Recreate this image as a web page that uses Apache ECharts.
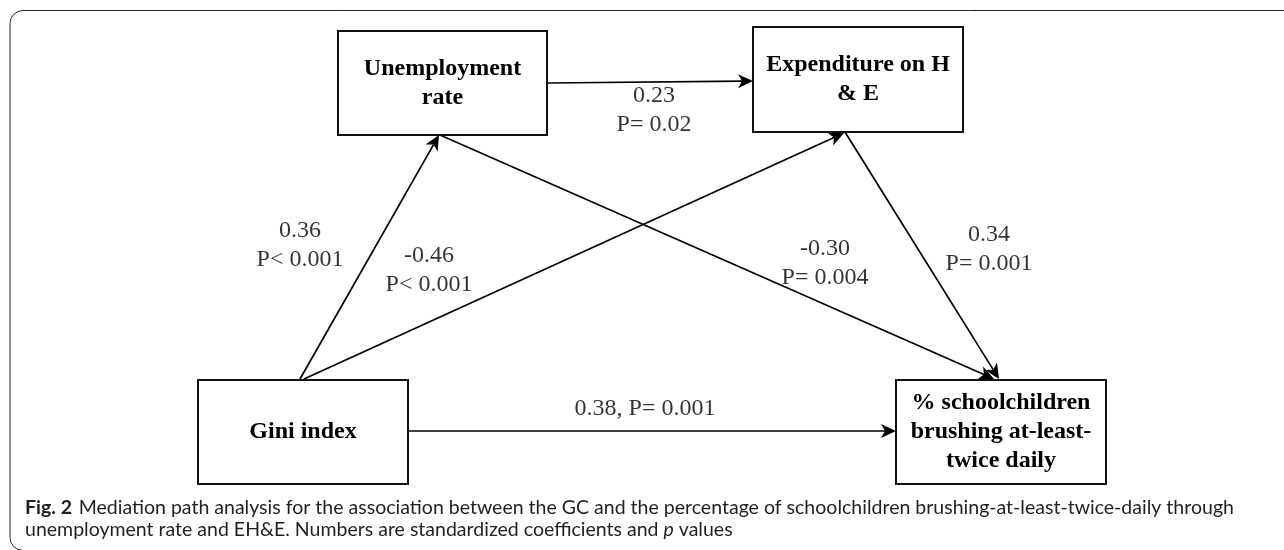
<!DOCTYPE html>
<html>
<head>
<meta charset="utf-8">
<script src="https://cdn.jsdelivr.net/npm/echarts@6/dist/echarts.min.js"></script>
<style>
html,body{margin:0;padding:0;background:#fff;}
#chart{width:1284px;height:550px;}
</style>
</head>
<body>
<div id="chart"></div>
<script>
// ---- DATA ----
const nodeNames = ['Unemployment\nrate', 'Expenditure on H\n& E', 'Gini index', '% schoolchildren\nbrushing at-least-\ntwice daily'];
const pathFrom = [0, 2, 2, 0, 1, 2];
const pathTo = [1, 0, 1, 3, 3, 3];
const coefficients = ['0.23', '0.36', '-0.46', '-0.30', '0.34', '0.38'];
const pValues = ['P= 0.02', 'P< 0.001', 'P< 0.001', 'P= 0.004', 'P= 0.001', 'P= 0.001'];
const captionBold = 'Fig. 2';
const captionLine1 = 'Mediation path analysis for the association between the GC and the percentage of schoolchildren brushing-at-least-twice-daily through';
const captionLine2a = 'unemployment rate and EH&E. Numbers are standardized coefficients and ';
const captionItalic = 'p';
const captionLine2b = ' values';

// ---- LAYOUT (diagram space, same units as the hidden axes) ----
const boxLayout = [
  [338, 31, 547, 135],
  [753, 27, 963, 132],
  [198, 380, 408, 484],
  [896, 380, 1106, 484]
];
const pathLayout = [
  [548, 83, 753, 81],
  [300, 379, 439, 135],
  [304, 379, 844, 133],
  [440, 135, 994, 379],
  [845, 132, 999, 379],
  [409, 431, 896, 431]
];
const labelLayout = [
  [654, 110, 2],
  [300, 245, 2],
  [429, 270, 2],
  [825, 263, 2],
  [989, 249, 2],
  [645, 409, 1]
];

const chart = echarts.init(document.getElementById('chart'), null, {renderer: 'canvas'});

const serif = '"Liberation Serif", "Times New Roman", serif';

// caption font sizing to span the reference width
function measure(txt, font) {
  const c = document.createElement('canvas').getContext('2d');
  c.font = font;
  return c.measureText(txt).width;
}
const capFamily = 'Lato, "Open Sans", sans-serif';
const baseSize = 18;
const w1 = measure(captionBold + '  ', 'bold ' + baseSize + 'px ' + capFamily) + measure(captionLine1, baseSize + 'px ' + capFamily);
const capSize = Math.min(20, baseSize * 1213 / w1);

const option = {
  animation: false,
  backgroundColor: '#fff',
  grid: {left: 0, right: 0, top: 0, bottom: 0},
  xAxis: {type: 'value', min: 0, max: 1284, show: false},
  yAxis: {type: 'value', min: 0, max: 550, inverse: true, show: false},
  graphic: [
    {
      type: 'rect', silent: true, z: 0,
      shape: {x: 10, y: 10.5, width: 1300, height: 540, r: 13},
      style: {fill: 'none', stroke: '#222', lineWidth: 1}
    },
    {
      type: 'text', z: 10, x: 25, y: 508,
      style: {
        text: '{b|' + captionBold + '}  {r|' + captionLine1 + '}',
        verticalAlign: 'middle',
        rich: {
          b: {fontFamily: capFamily, fontWeight: 'bold', fontSize: capSize, fill: '#231f20'},
          r: {fontFamily: capFamily, fontSize: capSize, fill: '#231f20'}
        }
      }
    },
    {
      type: 'text', z: 10, x: 25, y: 530,
      style: {
        text: '{r|' + captionLine2a + '}{i|' + captionItalic + '}{r|' + captionLine2b + '}',
        verticalAlign: 'middle',
        rich: {
          r: {fontFamily: capFamily, fontSize: capSize, fill: '#231f20'},
          i: {fontFamily: capFamily, fontSize: capSize, fontStyle: 'italic', fill: '#231f20'}
        }
      }
    }
  ],
  series: [
    {
      type: 'custom',
      coordinateSystem: 'cartesian2d',
      z: 2,
      silent: true,
      data: pathLayout.map((p, i) => [p[0], p[1], p[2], p[3], pathFrom[i], pathTo[i]]),
      renderItem: function (params, api) {
        const a = api.coord([api.value(0), api.value(1)]);
        const b = api.coord([api.value(2), api.value(3)]);
        const dx = b[0] - a[0], dy = b[1] - a[1];
        const len = Math.sqrt(dx * dx + dy * dy);
        const ux = dx / len, uy = dy / len;
        const nx = -uy, ny = ux;
        const L = 15, W = 7, notch = 4;
        const baseX = b[0] - ux * L, baseY = b[1] - uy * L;
        const notchX = b[0] - ux * (L - notch), notchY = b[1] - uy * (L - notch);
        return {
          type: 'group',
          children: [
            {
              type: 'line',
              shape: {x1: a[0], y1: a[1], x2: notchX, y2: notchY},
              style: {stroke: '#000', lineWidth: 1.7}
            },
            {
              type: 'polygon',
              shape: {points: [
                [b[0], b[1]],
                [baseX + nx * W, baseY + ny * W],
                [notchX, notchY],
                [baseX - nx * W, baseY - ny * W]
              ]},
              style: {fill: '#000'}
            }
          ]
        };
      }
    },
    {
      type: 'custom',
      coordinateSystem: 'cartesian2d',
      z: 3,
      silent: true,
      data: boxLayout.map((b, i) => [b[0], b[1], b[2], b[3], i]),
      renderItem: function (params, api) {
        const p0 = api.coord([api.value(0), api.value(1)]);
        const p1 = api.coord([api.value(2), api.value(3)]);
        const idx = api.value(4);
        return {
          type: 'rect',
          shape: {x: p0[0], y: p0[1], width: p1[0] - p0[0], height: p1[1] - p0[1]},
          style: {fill: '#fff', stroke: '#111', lineWidth: 2},
          textContent: {
            style: {
              text: nodeNames[idx],
              fontFamily: serif,
              fontWeight: 'bold',
              fontSize: 24,
              lineHeight: 29,
              fill: '#000',
              align: 'center',
              verticalAlign: 'middle'
            }
          },
          textConfig: {position: 'inside'}
        };
      }
    },
    {
      type: 'scatter',
      z: 4,
      silent: true,
      symbolSize: 1,
      itemStyle: {color: 'rgba(0,0,0,0)'},
      data: labelLayout.map((l, i) => ({
        value: [l[0], l[1]],
        label: {
          formatter: l[2] === 1 ? coefficients[i] + ', ' + pValues[i] : coefficients[i] + '\n' + pValues[i]
        }
      })),
      label: {
        show: true,
        position: 'inside',
        fontFamily: serif,
        fontSize: 24,
        lineHeight: 29,
        color: '#000',
        align: 'center',
        verticalAlign: 'middle'
      }
    }
  ]
};
chart.setOption(option);
</script>
</body>
</html>
